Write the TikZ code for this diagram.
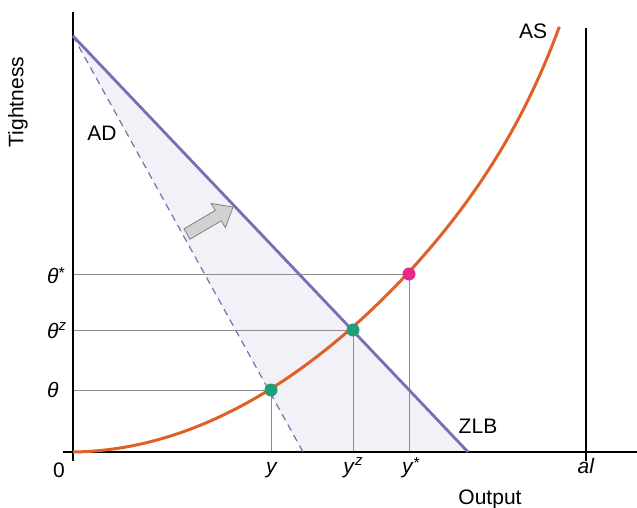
\documentclass[tikz,border=0pt]{standalone}
\usepackage{fontspec}
\setmainfont{Liberation Sans}
\usepackage{tikz}
\definecolor{ADPurple}{HTML}{7570B3}
\definecolor{ASOrange}{HTML}{DF6127}
\definecolor{DotGreen}{HTML}{1F9E77}
\definecolor{DotPink}{HTML}{E7298A}
\definecolor{ShiftFill}{HTML}{F2F1F8}
\newcommand{\supz}{\raisebox{7.4pt}{\fontsize{15}{15}\selectfont\textit{z}}}
\newcommand{\supstar}{\raisebox{4.6pt}{\fontsize{16}{16}\selectfont *}}

\begin{document}
\begin{tikzpicture}[x=1pt, y=-1pt, >=stealth, font=\fontsize{21}{24}\selectfont,
    axisline/.style={line width=2.6pt, black},
    guide/.style={draw=black!45, line width=0.9pt},
    dot/.style={circle, inner sep=0pt, minimum size=13pt},
    lbl/.style={inner sep=0pt}]
  \useasboundingbox (0,0) rectangle (637,508);

  % Coordinates
  \coordinate (ytop) at (73,12);
  \coordinate (ybot) at (73,461);
  \coordinate (xleft) at (63,452);
  \coordinate (xright) at (637,452);
  \coordinate (origin) at (73,452);
  \coordinate (altop) at (586,28);
  \coordinate (albot) at (586,461);
  \coordinate (adtop) at (73,36);
  \coordinate (adold) at (303,452);
  \coordinate (adnew) at (468,452);
  \coordinate (eqlow) at (271,390);
  \coordinate (eqzlb) at (353,330);
  \coordinate (eqstar) at (409,274);

  % Shaded shift of AD
  \fill[ShiftFill] (adtop) -- (adold) -- (adnew) -- cycle;

  % Guides
  \draw[guide] (origin |- eqstar) -- (eqstar) -- (eqstar |- origin);
  \draw[guide] (origin |- eqzlb) -- (eqzlb) -- (eqzlb |- origin);
  \draw[guide] (origin |- eqlow) -- (eqlow) -- (eqlow |- origin);

  % Axes
  \draw[axisline] (ytop) -- (ybot);
  \draw[axisline] (xleft) -- (xright);
  \draw[axisline] (altop) -- (albot);

  % Curves
  \draw[ADPurple, line width=1.2pt, dash pattern=on 7pt off 5pt] (adtop) -- (adold);
  \draw[ADPurple, line width=2.8pt] (adtop) -- (adnew);
  \draw[ASOrange, line width=3pt] plot[domain=0:1, samples=120]
    ({73+487*\x}, {452-427*(0.015*\x+0.86*\x^2+0.125*\x^11)});

  % Shift arrow
  \draw[black!50, fill=black!18, line width=0.8pt, line join=miter]
    (190.0,239.2) -- (221.3,220.8) -- (225.4,227.7) -- (233,207)
    -- (211.2,203.5) -- (215.3,210.4) -- (184.0,228.8) -- cycle;

  % Nodes
  \node[dot, fill=DotGreen] (low) at (eqlow) {};
  \node[dot, fill=DotGreen] (zlb) at (eqzlb) {};
  \node[dot, fill=DotPink] (star) at (eqstar) {};

  \node[lbl, anchor=base west] (thstar) at (47,283) {\textit{θ}\supstar};
  \node[lbl, anchor=base west] (thz) at (47,338) {\textit{θ}\supz};
  \node[lbl, anchor=base west] (thlow) at (47,397) {\textit{θ}};

  \node[lbl, anchor=base] (zero) at (59,477) {0};
  \node[lbl, anchor=base] (ylow) at (272,473) {\textit{y}};
  \node[lbl, anchor=base] (yz) at (353,473) {\textit{y}\supz};
  \node[lbl, anchor=base] (ystar) at (411,473) {\textit{y}\supstar};
  \node[lbl, anchor=base] (al) at (586,473) {\textit{al}};

  \node[lbl, rotate=90] (tight) at (18,102) {Tightness};
  \node[lbl, anchor=base] (output) at (490,504) {Output};
  \node[lbl] (ad) at (102,133) {AD};
  \node[lbl] (as) at (533,31) {AS};
  \node[lbl] (zlbl) at (478,426) {ZLB};
\end{tikzpicture}
\end{document}
